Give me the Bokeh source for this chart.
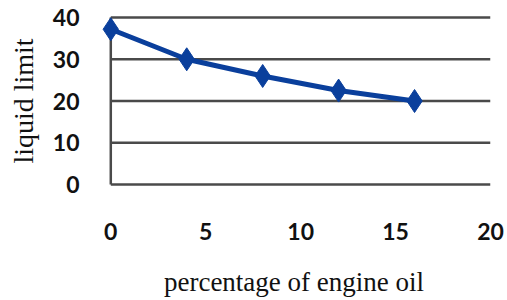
from bokeh.plotting import figure
from bokeh.models import Range1d, FixedTicker
from bokeh.embed import file_html
from bokeh.resources import INLINE

oil_pct = [0, 4, 8, 12, 16]
liquid_limit = [37.2, 30.0, 26.0, 22.5, 20.0]
x_ticks = [0, 5, 10, 15, 20]
y_ticks = [0, 10, 20, 30, 40]

LINE = "#0a3f9c"
GRID = "#4a4a4a"

p = figure(width=507, height=300, output_backend="svg", toolbar_location=None,
           x_range=Range1d(-0.7, 20), y_range=Range1d(-0.5, 40.5),
           min_border_left=97, min_border_right=17, min_border_top=15, min_border_bottom=114)
p.outline_line_color = None
p.xgrid.visible = False
p.ygrid.visible = False

# horizontal grid lines from x=0 to x=20
p.segment(x0=[x_ticks[0]] * len(y_ticks), x1=[x_ticks[-1]] * len(y_ticks),
          y0=y_ticks, y1=y_ticks, line_color=GRID, line_width=2.5)
# left axis line at x=0
p.segment(x0=[x_ticks[0]], x1=[x_ticks[0]], y0=[y_ticks[0]], y1=[y_ticks[-1]],
          line_color=GRID, line_width=2.5)

p.line(oil_pct, liquid_limit, line_color=LINE, line_width=5)
p.scatter(oil_pct, liquid_limit, marker="diamond", size=23, fill_color=LINE, line_color=LINE)

for ax in (p.xaxis[0], p.yaxis[0]):
    ax.axis_line_color = None
    ax.major_tick_line_color = None
    ax.minor_tick_line_color = None
    ax.major_label_text_font = "Lato"
    ax.major_label_text_font_style = "bold"
    ax.major_label_text_font_size = "23px"
    ax.major_label_text_color = "#111111"
    ax.axis_label_text_font = "Liberation Serif"
    ax.axis_label_text_font_style = "normal"
    ax.axis_label_text_color = "#111111"

p.xaxis.axis_label_text_font_size = "27px"
p.yaxis.axis_label_text_font_size = "28px"
p.xaxis.ticker = FixedTicker(ticks=x_ticks)
p.yaxis.ticker = FixedTicker(ticks=y_ticks)
p.xaxis.axis_label = "percentage of engine oil"
p.yaxis.axis_label = "liquid limit"
p.xaxis.major_label_standoff = 30
p.xaxis.axis_label_standoff = 24
p.yaxis.major_label_standoff = 12
p.yaxis.axis_label_standoff = 11

open("out.html", "w").write(file_html(p, INLINE))
